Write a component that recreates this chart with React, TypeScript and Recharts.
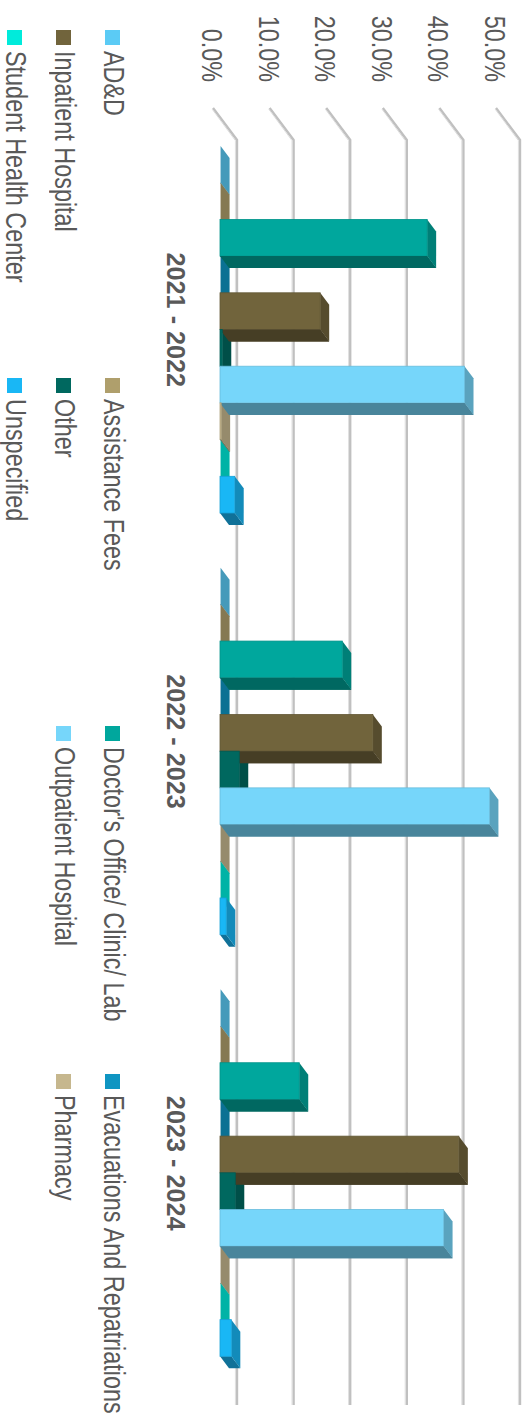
import { Bar, BarChart, CartesianGrid, Legend, XAxis, YAxis } from "recharts";

const years = ["2021 - 2022", "2022 - 2023", "2023 - 2024"];

const seriesNames = [
  "AD&D",
  "Assistance Fees",
  "Doctor's Office/ Clinic/ Lab",
  "Evacuations And Repatriations",
  "Inpatient Hospital",
  "Other",
  "Outpatient Hospital",
  "Pharmacy",
  "Student Health Center",
  "Unspecified",
];

const seriesColors = [
  "#5BCBF5",
  "#AF9F6C",
  "#00A79D",
  "#0F95C2",
  "#71643C",
  "#00685F",
  "#76D6FA",
  "#C6B78E",
  "#00EBDB",
  "#19B7F5",
];

const adnd = [0.1, 0.1, 0.1];
const assistanceFees = [0.1, 0.1, 0.1];
const doctorsOffice = [36.6, 21.6, 14.0];
const evacuations = [0.1, 0.1, 0.1];
const inpatient = [17.7, 27.0, 42.2];
const other = [0.4, 3.4, 2.7];
const outpatient = [43.2, 47.6, 39.5];
const pharmacy = [0.2, 0.1, 0.1];
const studentHealth = [0.1, 0.1, 0.1];
const unspecified = [2.6, 1.1, 2.0];

const seriesValues = [
  adnd,
  assistanceFees,
  doctorsOffice,
  evacuations,
  inpatient,
  other,
  outpatient,
  pharmacy,
  studentHealth,
  unspecified,
];

const valueTicks = [0, 10, 20, 30, 40, 50];

const data = years.map((year, i) => {
  const row: Record<string, string | number> = { year };
  seriesNames.forEach((name, s) => {
    row[name] = seriesValues[s][i];
  });
  return row;
});

const TEXT = "#595959";
const FONT = '"Liberation Sans", Arial, sans-serif';

// depth of a column, in px
const DX = 12;
const DY = 9;

function shade(hex: string, k: number) {
  const n = parseInt(hex.slice(1), 16);
  const c = [(n >> 16) & 255, (n >> 8) & 255, n & 255].map((v) => Math.round(v * k));
  return `rgb(${c[0]},${c[1]},${c[2]})`;
}

function pts(list: number[][]) {
  return list.map((p) => p.join(",")).join(" ");
}

const SIDE = 0.62;
const TOP = 0.76;

// Extruded column. A taller left neighbour's side face sits in front of this
// column's top, so that side is painted again before the front face.
function Column(props: any) {
  const { x, y, width, height, fill, payload, seriesIndex } = props;
  const self = Number(payload[seriesNames[seriesIndex]]);
  const prev = seriesIndex > 0 ? Number(payload[seriesNames[seriesIndex - 1]]) : -1;
  const x1 = x + width;
  const y1 = y + height;
  const prevTop = y1 - (prev / self) * height;
  return (
    <g>
      <polygon points={pts([[x1, y], [x1 + DX, y - DY], [x1 + DX, y1 - DY], [x1, y1]])} fill={shade(fill, SIDE)} />
      <polygon points={pts([[x, y], [x + DX, y - DY], [x1 + DX, y - DY], [x1, y]])} fill={shade(fill, TOP)} />
      {prev > self && (
        <polygon
          points={pts([[x, prevTop], [x + DX, prevTop - DY], [x + DX, y1 - DY], [x, y1]])}
          fill={shade(seriesColors[seriesIndex - 1], SIDE)}
        />
      )}
      {height > 0.8 && (
        <rect x={x} y={y} width={width} height={height} fill={fill} stroke={shade(fill, 0.88)} strokeWidth={0.8} />
      )}
    </g>
  );
}

// Gridline: runs forward along the floor, then along the back wall
function GridLine(props: any) {
  const { x1, x2, y1 } = props;
  const line = pts([[x1 - 11, y1 + 7], [x1 + 21, y1 - 17], [x2 + 21, y1 - 17]]);
  const edge = pts([[x1 - 9.8, y1 + 7.8], [x1 + 21.6, y1 - 15.4], [x2 + 21, y1 - 15.4]]);
  return (
    <g fill="none">
      <polyline points={line} stroke="#c0c0c0" strokeWidth={2.4} />
      <polyline points={edge} stroke="#dedede" strokeWidth={1} />
    </g>
  );
}

function ValueTick(props: any) {
  const { y, payload } = props;
  return (
    <text
      transform={`translate(82 ${y + 18}) scale(0.78 1)`}
      textAnchor="end"
      fontFamily={FONT}
      fontSize={30}
      fill={TEXT}
    >
      {payload.value.toFixed(1)}%
    </text>
  );
}

function YearTick(props: any) {
  const { x, payload } = props;
  return (
    <text
      transform={`translate(${x - 10} 364) scale(0.97 1)`}
      textAnchor="middle"
      fontFamily={FONT}
      fontSize={26}
      fontWeight="bold"
      fill={TEXT}
    >
      {payload.value}
    </text>
  );
}

function LegendGrid(props: any) {
  return (
    <div style={{ position: "absolute", width: 1392, display: "flex", flexWrap: "wrap", fontFamily: FONT, fontSize: 30, color: TEXT }}>
      {props.payload.map((item: any) => (
        <div key={item.value} style={{ width: 348, height: 49, display: "flex", alignItems: "flex-start" }}>
          <span style={{ width: 15, height: 15, background: item.color, marginRight: 6, flex: "none" }} />
          <span
            style={{
              position: "relative",
              top: -2,
              lineHeight: "15px",
              whiteSpace: "nowrap",
              transform: "scaleX(0.78)",
              transformOrigin: "0 50%",
            }}
          >
            {item.value}
          </span>
        </div>
      ))}
    </div>
  );
}

export default function App() {
  return (
    <div
      style={{
        position: "absolute",
        left: 531,
        top: 0,
        width: 1416,
        height: 531,
        background: "#fff",
        transform: "rotate(90deg)",
        transformOrigin: "0 0",
      }}
    >
      <BarChart
        width={1416}
        height={531}
        data={data}
        margin={{ top: 28, right: 32, bottom: 219, left: 118 }}
        barGap={0}
        barSize={36.7}
        style={{ overflow: "visible" }}
      >
        <CartesianGrid vertical={false} horizontal={<GridLine />} />
        <XAxis dataKey="year" height={1} axisLine={false} tickLine={false} tick={<YearTick />} interval={0} />
        <YAxis width={1} domain={[0, 50]} ticks={valueTicks} axisLine={false} tickLine={false} tick={<ValueTick />} />
        {/* zero-sized wrapper: the rotated parent would otherwise swap the measured legend box */}
        <Legend
          content={<LegendGrid />}
          itemSorter={null}
          wrapperStyle={{ position: "absolute", left: 30, top: 411, bottom: "auto", width: 0, height: 0, margin: 0 }}
        />
        {seriesNames.map((name, i) => (
          <Bar
            key={name}
            dataKey={name}
            name={name}
            fill={seriesColors[i]}
            isAnimationActive={false}
            shape={(p: any) => <Column {...p} seriesIndex={i} />}
          />
        ))}
      </BarChart>
    </div>
  );
}
